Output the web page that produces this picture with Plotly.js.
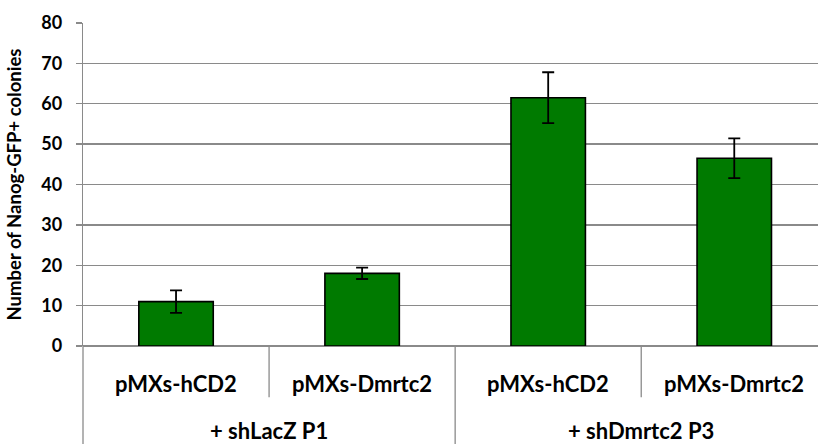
<!DOCTYPE html>
<html>
<head>
<meta charset="utf-8">
<script src="https://cdn.plot.ly/plotly-3.0.1.min.js"></script>
<style>
  html, body { margin: 0; padding: 0; background: #ffffff; }
  #chart { width: 818px; height: 444px; }
</style>
</head>
<body>
<div id="chart"></div>
<script>
// ---- data ----
const groupNames = ['+ shLacZ P1', '+ shDmrtc2 P3'];
const categoryLabels = ['pMXs-hCD2', 'pMXs-Dmrtc2', 'pMXs-hCD2', 'pMXs-Dmrtc2'];
const categoryGroup = [0, 0, 1, 1];
const colonyCounts = [11, 18, 61.5, 46.5];
const colonyErrors = [2.8, 1.4, 6.3, 4.9];
const yTickValues = [0, 10, 20, 30, 40, 50, 60, 70, 80];
const yTitle = 'Number of Nanog-GFP+ colonies';

// ---- styling ----
const FONT = 'Lato, "Open Sans", "Liberation Sans", sans-serif';
const GRID = '#8a8a8a';
const xIdx = categoryLabels.map((_, i) => i);

const trace = {
  type: 'bar',
  x: xIdx,
  y: colonyCounts,
  width: 0.4,
  marker: { color: '#007a00', line: { color: '#000000', width: 1.6 } },
  error_y: { type: 'data', array: colonyErrors, visible: true, color: '#000000', thickness: 1.8, width: 6 },
  hoverinfo: 'skip'
};

const annotations = [];
const shapes = [];

// first-level labels
xIdx.forEach(i => {
  annotations.push({
    xref: 'x', yref: 'paper', x: i, y: -0.1155, yanchor: 'middle', xanchor: 'center',
    text: categoryLabels[i], showarrow: false, borderpad: 0,
    font: { family: FONT, size: 22, color: '#000000', weight: 'bold' }
  });
});
// group labels
groupNames.forEach((g, gi) => {
  const members = xIdx.filter(i => categoryGroup[i] === gi);
  const center = members.reduce((a, b) => a + b, 0) / members.length;
  annotations.push({
    xref: 'x', yref: 'paper', x: center, y: -0.262, yanchor: 'middle', xanchor: 'center',
    text: g, showarrow: false, borderpad: 0,
    font: { family: FONT, size: 22, color: '#000000', weight: 'bold' }
  });
});
// separators
for (let i = 0; i < xIdx.length - 1; i++) {
  const long = categoryGroup[i] !== categoryGroup[i + 1];
  shapes.push({
    type: 'line', xref: 'x', yref: 'paper', x0: i + 0.5, x1: i + 0.5, y0: 0, y1: long ? -0.35 : -0.159,
    line: { color: GRID, width: 1.3 }
  });
}
// left border continuing below the axis
shapes.push({
  type: 'line', xref: 'paper', yref: 'paper', x0: 0, x1: 0, y0: 0, y1: -0.35,
  line: { color: GRID, width: 1.3 }
});

const layout = {
  width: 818, height: 444,
  margin: { l: 83, r: 0, t: 23, b: 98 },
  paper_bgcolor: '#ffffff', plot_bgcolor: '#ffffff',
  showlegend: false,
  font: { family: FONT, color: '#000000' },
  xaxis: {
    range: [-0.5, 3.45], showgrid: false, showticklabels: false, zeroline: false,
    showline: false, ticks: '', fixedrange: true
  },
  yaxis: {
    range: [0, 80], tickvals: yTickValues, ticktext: yTickValues.map(String),
    showgrid: true, gridcolor: GRID, gridwidth: 1.3,
    zeroline: true, zerolinecolor: GRID, zerolinewidth: 1.3,
    showline: true, linecolor: GRID, linewidth: 1.3,
    ticks: 'outside', ticklen: 6, tickcolor: GRID, tickwidth: 1.3,
    ticklabelstandoff: 10,
    tickfont: { family: FONT, size: 18, color: '#000000', weight: 'bold' },
    title: { text: yTitle, standoff: 14, font: { family: FONT, size: 18.5, color: '#000000', weight: 'bold' } },
    fixedrange: true
  },
  annotations: annotations,
  shapes: shapes
};

Plotly.newPlot('chart', [trace], layout, { displayModeBar: false, staticPlot: true });
</script>
</body>
</html>
